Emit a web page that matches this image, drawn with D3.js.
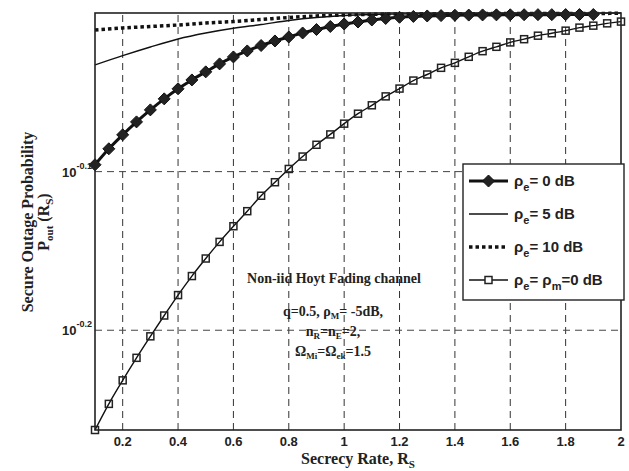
<!DOCTYPE html>
<html>
<head>
<meta charset="utf-8">
<script src="https://cdn.jsdelivr.net/npm/d3@7"></script>
<style>
  body { margin: 0; background: #fff; }
  svg { display: block; }
  .serif { font-family: "Liberation Serif", "Times New Roman", serif; font-weight: bold; }
  .sans { font-family: "Liberation Sans", Arial, sans-serif; font-weight: bold; }
</style>
</head>
<body>
<div id="chart"></div>
<script>
// secrecy rate grids
const ratesFine = [0.1, 0.15, 0.2, 0.25, 0.3, 0.35, 0.4, 0.45, 0.5, 0.55, 0.6, 0.65, 0.7, 0.75, 0.8, 0.85, 0.9, 0.95,
  1.0, 1.05, 1.1, 1.15, 1.2, 1.25, 1.3, 1.35, 1.4, 1.45, 1.5, 1.55, 1.6, 1.65, 1.7, 1.75, 1.8, 1.85, 1.9, 1.95, 2.0];
const ratesCoarse = [0.1, 0.2, 0.3, 0.4, 0.5, 0.6, 0.7, 0.8, 0.9, 1.0, 1.1, 1.2, 1.3, 1.4, 1.5, 1.6, 1.7, 1.8, 1.9, 2.0];

// outage probability per series
const pe0 = [0.8023, 0.8211, 0.8379, 0.8538, 0.8688, 0.8828, 0.8958, 0.9074, 0.9181, 0.9288, 0.9382, 0.9464, 0.9539,
  0.9602, 0.9658, 0.9714, 0.9763, 0.9806, 0.9842, 0.9870, 0.9899, 0.9921, 0.9938, 0.9950, 0.9957, 0.9962, 0.9967,
  0.9970, 0.9972, 0.9973, 0.9974, 0.9975, 0.9976, 0.9976, 0.9977, 0.9977, 0.9978];
const pe5 = [0.9274, 0.9400, 0.9519, 0.9630, 0.9714, 0.9781, 0.9834, 0.9892, 0.9935, 0.9963, 0.9978, 0.9985, 0.9990,
  0.9993, 0.9995, 0.9996, 0.9997, 0.9998, 0.9998, 0.9999];
const pe10 = [0.9757, 0.9785, 0.9806, 0.9827, 0.9856, 0.9877, 0.9906, 0.9935, 0.9957, 0.9971, 0.9981, 0.9986, 0.9988,
  0.9990, 0.9991, 0.9992, 0.9993, 0.9993, 0.9994, 0.9995];
const peM0 = [0.5459, 0.5670, 0.5867, 0.6062, 0.6254, 0.6446, 0.6640, 0.6826, 0.7002, 0.7173, 0.7338, 0.7500, 0.7670,
  0.7822, 0.7974, 0.8119, 0.8259, 0.8384, 0.8516, 0.8640, 0.8746, 0.8860, 0.8961, 0.9066, 0.9146, 0.9235, 0.9302,
  0.9384, 0.9461, 0.9521, 0.9582, 0.9627, 0.9676, 0.9710, 0.9747, 0.9790, 0.9818, 0.9851, 0.9876];

const xTicks = [0.2, 0.4, 0.6, 0.8, 1, 1.2, 1.4, 1.6, 1.8, 2];
const yTickExps = ["-0.1", "-0.2"];

const width = 629, height = 471;
const margin = { top: 13, right: 8, bottom: 41, left: 95 };

const svg = d3.select("#chart").append("svg")
  .attr("width", width)
  .attr("height", height);

const x = d3.scaleLinear()
  .domain([0.1, 2])
  .range([margin.left, width - margin.right]);

const y = d3.scaleLog()
  .domain([0.5459, 1])
  .range([height - margin.bottom, margin.top]);

const x0 = margin.left, x1 = width - margin.right;
const y0 = height - margin.bottom, y1 = margin.top;

// grid
const grid = svg.append("g");
xTicks.filter(t => t < 2).forEach(t => {
  grid.append("line")
    .attr("x1", x(t)).attr("x2", x(t))
    .attr("y1", y0).attr("y2", y1)
    .attr("stroke", "#333")
    .attr("stroke-width", 1)
    .attr("stroke-dasharray", "7,5");
});
yTickExps.forEach(e => {
  const v = Math.pow(10, +e);
  grid.append("line")
    .attr("x1", x0).attr("x2", x1)
    .attr("y1", y(v)).attr("y2", y(v))
    .attr("stroke", "#444")
    .attr("stroke-width", 1)
    .attr("stroke-dasharray", "7,5");
});

// curves
const lineOf = xs => d3.line()
  .x((d, i) => x(xs[i]))
  .y(d => y(d))
  .curve(d3.curveMonotoneX);

svg.append("path")
  .datum(pe5)
  .attr("d", lineOf(ratesCoarse))
  .attr("fill", "none")
  .attr("stroke", "#111")
  .attr("stroke-width", 1.4);

svg.append("path")
  .datum(pe10)
  .attr("d", lineOf(ratesCoarse))
  .attr("fill", "none")
  .attr("stroke", "#111")
  .attr("stroke-width", 3.5)
  .attr("stroke-dasharray", "3.5,3");

svg.append("path")
  .datum(peM0)
  .attr("d", lineOf(ratesFine))
  .attr("fill", "none")
  .attr("stroke", "#111")
  .attr("stroke-width", 1.4);

peM0.forEach((d, i) => {
  svg.append("rect")
    .attr("x", x(ratesFine[i]) - 3.5).attr("y", y(d) - 3.5)
    .attr("width", 7).attr("height", 7)
    .attr("fill", "none")
    .attr("stroke", "#222")
    .attr("stroke-width", 1.5);
});

svg.append("path")
  .datum(pe0)
  .attr("d", lineOf(ratesFine))
  .attr("fill", "none")
  .attr("stroke", "#111")
  .attr("stroke-width", 3);

const diamond = (cx, cy, r) => `M${cx},${cy - r}L${cx + r},${cy}L${cx},${cy + r}L${cx - r},${cy}Z`;
pe0.forEach((d, i) => {
  svg.append("path")
    .attr("d", diamond(x(ratesFine[i]), y(d), 6))
    .attr("fill", "#222")
    .attr("stroke", "#111")
    .attr("stroke-width", 1);
});

// frame
svg.append("rect")
  .attr("x", x0).attr("y", y1)
  .attr("width", x1 - x0).attr("height", y0 - y1)
  .attr("fill", "none")
  .attr("stroke", "#222")
  .attr("stroke-width", 1.6);

// x tick labels
xTicks.forEach(t => {
  svg.append("text")
    .attr("class", "sans")
    .attr("x", x(t)).attr("y", 446)
    .attr("text-anchor", "middle")
    .style("font-size", "13px")
    .attr("fill", "#222")
    .text(t);
});

// y tick labels
yTickExps.forEach(e => {
  const v = Math.pow(10, +e);
  const t = svg.append("text")
    .attr("class", "sans")
    .attr("x", 92).attr("y", y(v) + 5)
    .attr("text-anchor", "end")
    .attr("fill", "#222")
    .style("font-size", "13px");
  t.append("tspan").text("10");
  t.append("tspan").attr("dy", -8).style("font-size", "9px").text(e);
});

// axis titles
const xt = svg.append("text")
  .attr("class", "serif")
  .attr("x", 358).attr("y", 464)
  .attr("text-anchor", "middle")
  .attr("fill", "#222")
  .style("font-size", "16px");
xt.append("tspan").text("Secrecy Rate, R");
xt.append("tspan").attr("dy", 4).style("font-size", "11px").text("S");

svg.append("text")
  .attr("class", "serif")
  .attr("transform", "translate(33,222) rotate(-90)")
  .attr("text-anchor", "middle")
  .attr("fill", "#222")
  .style("font-size", "16px")
  .text("Secure Outage Probability");

const yt2 = svg.append("text")
  .attr("class", "serif")
  .attr("transform", "translate(49,222) rotate(-90)")
  .attr("text-anchor", "middle")
  .attr("fill", "#222")
  .style("font-size", "16px");
yt2.append("tspan").text("P");
yt2.append("tspan").attr("dy", 4).style("font-size", "11px").text("out");
yt2.append("tspan").attr("dy", -4).text(" (R");
yt2.append("tspan").attr("dy", 4).style("font-size", "11px").text("S");
yt2.append("tspan").attr("dy", -4).text(")");

// annotation
const note = svg.append("g").attr("class", "serif").attr("fill", "#222").attr("text-anchor", "middle");
note.append("text").attr("x", 334).attr("y", 283).style("font-size", "14px").text("Non-iid Hoyt Fading channel");
const n1 = note.append("text").attr("x", 333).attr("y", 316).style("font-size", "14px");
n1.append("tspan").text("q=0.5, ρ");
n1.append("tspan").attr("dy", 3).style("font-size", "9px").text("M");
n1.append("tspan").attr("dy", -3).text("= -5dB,");
const n2 = note.append("text").attr("x", 333).attr("y", 336).style("font-size", "14px");
n2.append("tspan").text("n");
n2.append("tspan").attr("dy", 3).style("font-size", "9px").text("R");
n2.append("tspan").attr("dy", -3).text("=n");
n2.append("tspan").attr("dy", 3).style("font-size", "9px").text("E");
n2.append("tspan").attr("dy", -3).text("=2,");
const n3 = note.append("text").attr("x", 333).attr("y", 356).style("font-size", "14px");
n3.append("tspan").text("Ω");
n3.append("tspan").attr("dy", 3).style("font-size", "9px").text("Mi");
n3.append("tspan").attr("dy", -3).text("=Ω");
n3.append("tspan").attr("dy", 3).style("font-size", "9px").text("ek");
n3.append("tspan").attr("dy", -3).text("=1.5");

// legend
const legendLabels = [["= 0 dB"], ["= 5 dB"], ["= 10 dB"], ["= ρ", "m", "=0 dB"]];
const legend = svg.append("g");
legend.append("rect")
  .attr("x", 463).attr("y", 164)
  .attr("width", 161).attr("height", 136)
  .attr("fill", "#fff")
  .attr("stroke", "#222")
  .attr("stroke-width", 1.4);

const rowY = [181, 214, 247, 280];
const lx0 = 469, lx1 = 508, lxm = 488.5;
legend.append("line").attr("x1", lx0).attr("x2", lx1).attr("y1", rowY[0]).attr("y2", rowY[0])
  .attr("stroke", "#111").attr("stroke-width", 3);
legend.append("path").attr("d", diamond(lxm, rowY[0], 6)).attr("fill", "#222").attr("stroke", "#111");
legend.append("line").attr("x1", lx0).attr("x2", lx1).attr("y1", rowY[1]).attr("y2", rowY[1])
  .attr("stroke", "#111").attr("stroke-width", 1.4);
legend.append("line").attr("x1", lx0).attr("x2", lx1).attr("y1", rowY[2]).attr("y2", rowY[2])
  .attr("stroke", "#111").attr("stroke-width", 3.5).attr("stroke-dasharray", "3.5,3");
legend.append("line").attr("x1", lx0).attr("x2", lx1).attr("y1", rowY[3]).attr("y2", rowY[3])
  .attr("stroke", "#111").attr("stroke-width", 1.4);
legend.append("rect").attr("x", lxm - 3.5).attr("y", rowY[3] - 3.5).attr("width", 7).attr("height", 7)
  .attr("fill", "#fff").attr("stroke", "#222").attr("stroke-width", 1.5);

legendLabels.forEach((parts, i) => {
  const t = legend.append("text")
    .attr("class", "sans")
    .attr("x", 514).attr("y", rowY[i] + 5)
    .attr("fill", "#222")
    .style("font-size", "15px");
  t.append("tspan").text("ρ");
  t.append("tspan").attr("dy", 5).style("font-size", "11px").text("e");
  t.append("tspan").attr("dy", -5).text(parts[0]);
  if (parts.length > 1) {
    t.append("tspan").attr("dy", 5).style("font-size", "11px").text(parts[1]);
    t.append("tspan").attr("dy", -5).text(parts[2]);
  }
});
</script>
</body>
</html>
